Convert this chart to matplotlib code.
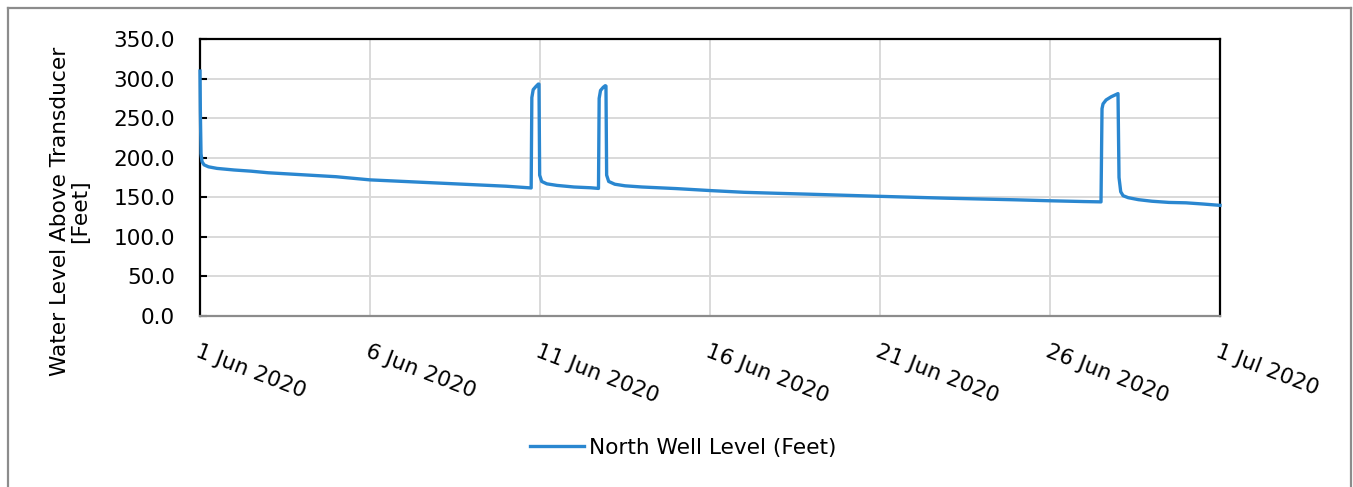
import matplotlib
matplotlib.use("Agg")
import matplotlib.pyplot as plt
import matplotlib.dates as mdates
from matplotlib.lines import Line2D
from datetime import datetime
import numpy as np

# Data: days since 1 Jun 2020 00:00, water level (feet)
day_offsets = [0.0, 0.01, 0.03, 0.06, 0.12, 0.25, 0.5, 1.0, 1.5, 2.0, 3.0, 4.0, 5.0, 6.0, 7.0,
               8.0, 9.0, 9.74,
               9.76, 9.80, 9.88, 9.95, 9.97,
               9.99, 10.05, 10.2, 10.5, 11.0, 11.5, 11.72,
               11.74, 11.78, 11.86, 11.92, 11.94,
               11.96, 12.02, 12.2, 12.5, 13.0, 14.0, 15.0, 16.0, 17.0, 18.0, 19.0, 20.0,
               21.0, 22.0, 23.0, 24.0, 25.0, 26.0, 26.5,
               26.53, 26.56, 26.65, 26.8, 26.95, 27.0,
               27.03, 27.08, 27.15, 27.3, 27.6, 28.0, 28.5, 29.0, 29.5, 30.0]
levels = [309.5, 260.0, 205.0, 195.0, 191.0, 188.5, 186.5, 184.5, 183.0, 181.0, 178.5, 176.0,
          172.0, 170.0, 168.0, 166.0, 164.0, 161.8,
          276.0, 286.0, 290.0, 293.0, 293.0,
          178.0, 170.0, 167.0, 165.0, 163.0, 162.0, 161.2,
          275.0, 285.0, 289.0, 291.0, 290.5,
          178.0, 170.0, 166.5, 164.5, 163.0, 161.0, 158.5, 156.3, 155.0, 153.8, 152.5, 151.2,
          150.0, 148.8, 147.8, 146.8, 145.6, 144.6, 144.2,
          262.0, 268.0, 273.0, 277.0, 280.0, 281.0,
          175.0, 157.0, 152.0, 149.5, 147.0, 145.0, 143.5, 143.0, 141.5, 139.8]
series_name = "North Well Level (Feet)"
y_ticks = [0, 50, 100, 150, 200, 250, 300, 350]
x_tick_days = [1, 6, 11, 16, 21, 26]

base = mdates.date2num(datetime(2020, 6, 1))
x = base + np.array(day_offsets)

FS = 15.6
plt.rcParams['font.family'] = ["DejaVu Sans"]
plt.rcParams['font.size'] = FS

W, H = 1353, 487
fig = plt.figure(figsize=(W / 100, H / 100), dpi=100)
ax = fig.add_axes([200 / W, 1 - 316 / H, 1020 / W, 277 / H])

line_color = "#2A87D0"
ax.plot(x, levels, color=line_color, lw=2.4, label=series_name, solid_joinstyle='round',
        zorder=3, clip_on=False)

ax.set_ylim(0, 350)
ax.set_yticks(y_ticks)
ax.set_yticklabels([f"{v:.1f}" for v in y_ticks])
ax.set_xlim(base, mdates.date2num(datetime(2020, 7, 1)))
ax.xaxis.set_major_locator(mdates.DayLocator(bymonthday=x_tick_days))
ax.xaxis.set_major_formatter(mdates.DateFormatter('%-d %b %Y'))

ax.grid(True, color="#D9D9D9", lw=1.4)
ax.set_axisbelow(True)

for s in ["left", "top", "right"]:
    ax.spines[s].set_color("black")
    ax.spines[s].set_linewidth(1.6)
ax.spines["bottom"].set_color("#8C8C8C")
ax.spines["bottom"].set_linewidth(1.6)

ax.tick_params(axis='y', direction='in', length=5, width=1.5, color='black', pad=18, labelsize=FS)
ax.tick_params(axis='x', length=0, pad=18, labelsize=FS)
for lab in ax.get_xticklabels():
    lab.set_rotation(-21)
    lab.set_rotation_mode('anchor')
    lab.set_ha('left')
    lab.set_va('top')

fig.text(70 / W, 1 - 211 / H, "Water Level Above Transducer\n[Feet]", rotation=90,
         ha='center', va='center', multialignment='center', fontsize=FS, linespacing=1.05)

leg = fig.legend(handles=[Line2D([0], [0], color=line_color, lw=2.4)], labels=[series_name],
                 loc='center', bbox_to_anchor=(683 / W, 1 - 448 / H), frameon=False,
                 fontsize=FS, handlelength=2.5, handletextpad=0.25)

# outer chart border
bc = "#8C8C8C"
fig.add_artist(Line2D([8 / W, 8 / W], [0, 1 - 8 / H], color=bc, lw=1.6, transform=fig.transFigure))
fig.add_artist(Line2D([8 / W, 1351 / W], [1 - 8 / H, 1 - 8 / H], color=bc, lw=1.6, transform=fig.transFigure))
fig.add_artist(Line2D([1351 / W, 1351 / W], [0, 1 - 8 / H], color=bc, lw=1.6, transform=fig.transFigure))

fig.savefig("out.png", dpi=100)
